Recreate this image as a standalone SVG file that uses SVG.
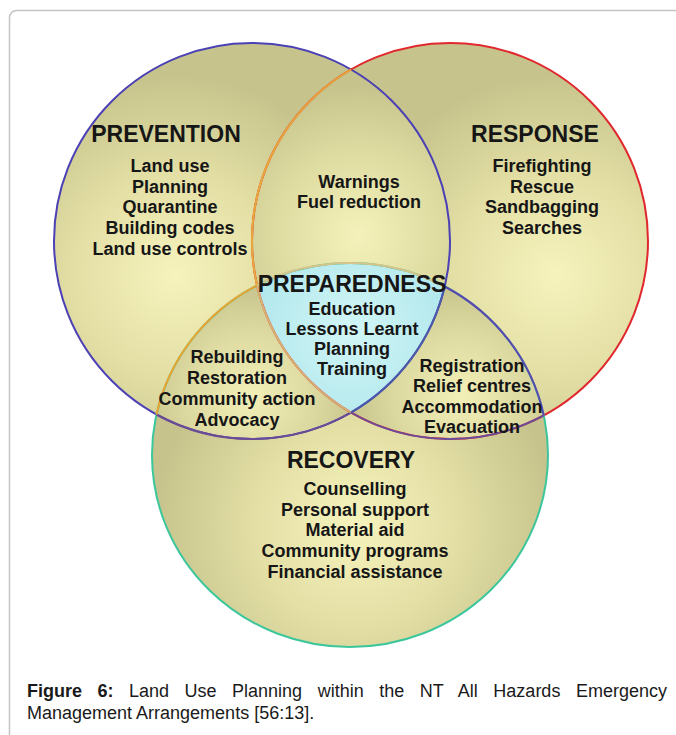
<svg xmlns="http://www.w3.org/2000/svg" width="676" height="735" viewBox="0 0 676 735">
<style>
.t{font-family:"Liberation Sans",Arial,sans-serif;font-weight:bold;fill:#161616;text-anchor:middle}
.h{font-size:23px}
.i{font-size:18px}
.cap{font-family:"Liberation Sans",Arial,sans-serif;font-size:18px;fill:#1a1a1a}
.o{fill:none;stroke-width:2}
</style>
<defs>
<clipPath id="cBlue"><circle cx="252" cy="241" r="198"/></clipPath>
<clipPath id="cRed"><circle cx="450" cy="241" r="198"/></clipPath>
<radialGradient id="gPrev" gradientUnits="userSpaceOnUse" cx="175" cy="275" r="200">
<stop offset="0" stop-color="#f6f3bd"/><stop offset="0.5" stop-color="#e3dfa5"/><stop offset="1" stop-color="#c6c48c"/></radialGradient>
<radialGradient id="gResp" gradientUnits="userSpaceOnUse" cx="555" cy="275" r="200">
<stop offset="0" stop-color="#f6f3bd"/><stop offset="0.5" stop-color="#e3dfa5"/><stop offset="1" stop-color="#c6c48c"/></radialGradient>
<radialGradient id="gRec" gradientUnits="userSpaceOnUse" cx="355" cy="525" r="200">
<stop offset="0" stop-color="#f6f3bd"/><stop offset="0.5" stop-color="#e3dfa5"/><stop offset="1" stop-color="#c6c48c"/></radialGradient>
<radialGradient id="gWarn" gradientUnits="userSpaceOnUse" cx="358" cy="235" r="150">
<stop offset="0" stop-color="#f4f1ba"/><stop offset="0.55" stop-color="#dfdca2"/><stop offset="1" stop-color="#c6c48c"/></radialGradient>
<radialGradient id="gReb" gradientUnits="userSpaceOnUse" cx="250" cy="395" r="110">
<stop offset="0" stop-color="#f2efb7"/><stop offset="0.6" stop-color="#dcd9a0"/><stop offset="1" stop-color="#c6c48c"/></radialGradient>
<radialGradient id="gReg" gradientUnits="userSpaceOnUse" cx="460" cy="395" r="110">
<stop offset="0" stop-color="#f2efb7"/><stop offset="0.6" stop-color="#dcd9a0"/><stop offset="1" stop-color="#c6c48c"/></radialGradient>
<radialGradient id="gCyan" gradientUnits="userSpaceOnUse" cx="352" cy="330" r="110">
<stop offset="0" stop-color="#d2f6f6"/><stop offset="1" stop-color="#aee6ec"/></radialGradient>
</defs>

<rect x="9.5" y="10.5" width="700" height="760" rx="7" fill="#ffffff" stroke="#c4c4c4" stroke-width="1.5"/>

<g id="fills">
<circle cx="252" cy="241" r="198" fill="url(#gPrev)"/>
<circle cx="450" cy="241" r="198" fill="url(#gResp)"/>
<ellipse cx="350" cy="455" rx="198" ry="192" fill="url(#gRec)"/>
<g clip-path="url(#cBlue)"><circle cx="450" cy="241" r="198" fill="url(#gWarn)"/></g>
<g clip-path="url(#cBlue)"><ellipse cx="350" cy="455" rx="198" ry="192" fill="url(#gReb)"/></g>
<g clip-path="url(#cRed)"><ellipse cx="350" cy="455" rx="198" ry="192" fill="url(#gReg)"/></g>
<g clip-path="url(#cBlue)"><g clip-path="url(#cRed)"><ellipse cx="350" cy="455" rx="198" ry="192" fill="url(#gCyan)"/></g></g>
</g>

<g id="outlines">
<circle class="o" cx="252" cy="241" r="198" stroke="#4b40b4"/>
<circle class="o" cx="450" cy="241" r="198" stroke="#e0282e"/>
<ellipse class="o" cx="350" cy="455" rx="198" ry="192" stroke="#3cc69c"/>
<path class="o" d="M156.5,414.5 A198,198 0 0 0 351,412.5" stroke="#6a4c94"/>
<path class="o" d="M351,69.5 A198,198 0 0 0 257,285.4" stroke="#e8a83c"/>
<path class="o" d="M257,285.4 A198,198 0 0 0 351,412.5" stroke="#d6b476"/>
<path class="o" d="M351,412.5 A198,198 0 0 0 543.8,415.4" stroke="#6a4c9a"/>
<path class="o" d="M156.5,414.5 A198,192 0 0 1 257,285.4" stroke="#eaa432"/>
<path class="o" d="M257,285.4 A198,192 0 0 1 444.7,286.5" stroke="#d8c48a"/>
<path class="o" d="M444.7,286.5 A198,192 0 0 1 543.8,415.4" stroke="#5a48b0"/>
<path class="o" d="M444.7,286.5 A198,198 0 0 1 351,412.5" stroke="#4a5aa8"/>
</g>

<g id="prevention">
<text class="t h" x="166" y="142">PREVENTION</text>
<text class="t i" x="170" y="172">Land use</text>
<text class="t i" x="170" y="193">Planning</text>
<text class="t i" x="170" y="213">Quarantine</text>
<text class="t i" x="170" y="234">Building codes</text>
<text class="t i" x="170" y="255">Land use controls</text>
</g>

<g id="prevention-response">
<text class="t i" x="359" y="188">Warnings</text>
<text class="t i" x="359" y="208">Fuel reduction</text>
</g>

<g id="response">
<text class="t h" x="535" y="142">RESPONSE</text>
<text class="t i" x="542" y="172">Firefighting</text>
<text class="t i" x="542" y="193">Rescue</text>
<text class="t i" x="542" y="213">Sandbagging</text>
<text class="t i" x="542" y="234">Searches</text>
</g>

<g id="preparedness">
<text class="t h" x="352" y="292">PREPAREDNESS</text>
<text class="t i" x="352" y="315">Education</text>
<text class="t i" x="352" y="335">Lessons Learnt</text>
<text class="t i" x="352" y="355">Planning</text>
<text class="t i" x="352" y="375">Training</text>
</g>

<g id="prevention-recovery">
<text class="t i" x="237" y="363">Rebuilding</text>
<text class="t i" x="237" y="384">Restoration</text>
<text class="t i" x="237" y="405">Community action</text>
<text class="t i" x="237" y="426">Advocacy</text>
</g>

<g id="response-recovery">
<text class="t i" x="472" y="372">Registration</text>
<text class="t i" x="472" y="392">Relief centres</text>
<text class="t i" x="472" y="413">Accommodation</text>
<text class="t i" x="472" y="433">Evacuation</text>
</g>

<g id="recovery">
<text class="t h" x="351" y="468">RECOVERY</text>
<text class="t i" x="355" y="495">Counselling</text>
<text class="t i" x="355" y="516">Personal support</text>
<text class="t i" x="355" y="536">Material aid</text>
<text class="t i" x="355" y="557">Community programs</text>
<text class="t i" x="355" y="578">Financial assistance</text>
</g>

<g id="caption">
<text class="cap" x="27" y="697" word-spacing="10.5"><tspan font-weight="bold">Figure 6:</tspan> Land Use Planning within the NT All Hazards Emergency</text>
<text class="cap" x="27" y="719">Management Arrangements [56:13].</text>
</g>
</svg>
